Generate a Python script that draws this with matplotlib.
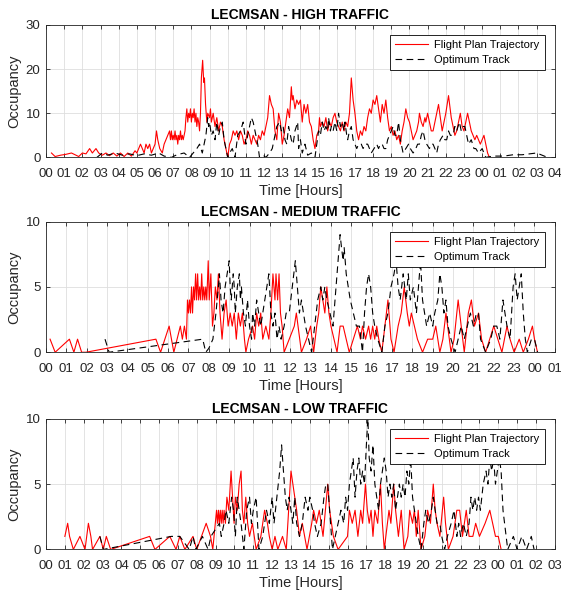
import numpy as np
import matplotlib
matplotlib.use('Agg')
import matplotlib.pyplot as plt

plt.rcParams['font.family'] = ['Liberation Sans', 'DejaVu Sans']

# ---- HIGH traffic ----
hi_fp_t = [0.3, 0.5, 0.8, 1.1, 1.4, 1.6, 1.8, 2.0, 2.2, 2.4, 2.55, 2.75, 2.9, 3.1, 3.3, 3.5, 3.7, 3.9, 4.1, 4.3, 4.5, 4.7, 4.9,
           5.0, 5.1, 5.2, 5.3, 5.4, 5.5, 5.6, 5.7, 5.8, 5.9,
           6.0, 6.08, 6.15, 6.26, 6.4, 6.5, 6.6, 6.7, 6.8, 6.85,
           6.9, 6.95, 7.0, 7.05, 7.1, 7.15, 7.2, 7.25, 7.3, 7.35, 7.4, 7.45, 7.5, 7.55, 7.6, 7.65, 7.7, 7.75, 7.8, 7.85, 7.9, 7.95,
           8.0, 8.05, 8.1, 8.15, 8.2, 8.25, 8.3, 8.35, 8.4, 8.45, 8.5, 8.55, 8.62, 8.68, 8.72, 8.78, 8.85, 8.9,
           9.0, 9.05, 9.1, 9.2, 9.3, 9.4, 9.5, 9.6, 9.7, 9.8, 9.9,
           10.0, 10.1, 10.2, 10.3, 10.4, 10.5, 10.6, 10.7, 10.8, 10.9,
           11.0, 11.1, 11.2, 11.3, 11.4, 11.5, 11.6, 11.7, 11.8, 11.9,
           12.0, 12.1, 12.2, 12.3, 12.4, 12.5, 12.6, 12.7, 12.8, 12.9,
           13.0, 13.1, 13.2, 13.3, 13.4, 13.5, 13.55, 13.6, 13.7, 13.8, 13.9,
           14.0, 14.1, 14.2, 14.3, 14.4, 14.5, 14.6, 14.7, 14.8, 14.9,
           15.0, 15.05, 15.1, 15.2, 15.3, 15.4, 15.5, 15.6, 15.7, 15.8, 15.9,
           16.0, 16.1, 16.2, 16.3, 16.4, 16.5, 16.6, 16.7, 16.8, 16.9,
           17.0, 17.1, 17.2, 17.3, 17.4, 17.5, 17.6, 17.7, 17.8, 17.9,
           18.0, 18.1, 18.2, 18.3, 18.4, 18.5, 18.6, 18.7, 18.8, 18.9,
           19.0, 19.1, 19.2, 19.3, 19.4, 19.5, 19.6, 19.7, 19.8, 19.9,
           20.0, 20.1, 20.2, 20.3, 20.4, 20.5, 20.55, 20.65, 20.75, 20.85, 20.9,
           21.0, 21.1, 21.2, 21.3, 21.4, 21.5, 21.6, 21.7, 21.8, 21.9,
           22.0, 22.15, 22.3, 22.4, 22.5, 22.6, 22.7, 22.8, 22.9,
           23.0, 23.1, 23.2, 23.3, 23.4, 23.5, 23.6, 23.7, 23.8, 23.9,
           24.0, 24.1, 24.2, 24.3, 24.4]
hi_fp_v = [1, 0.2, 0.5, 0.7, 1, 0.6, 0.2, 1, 0.8, 2, 1, 2, 1, 0.5, 1, 0.4, 1, 0.3, 1, 0.2, 1, 0.3, 1.5,
           1, 2, 3, 2, 1, 3, 2, 3, 1, 2,
           3, 6, 4, 2, 1, 3, 4, 5, 6, 4,
           6, 4, 5, 4, 6, 4, 5, 3, 5, 4, 6, 4, 5, 4, 5, 6, 9, 11, 8, 10, 9, 11,
           8, 10, 9, 11, 8, 10, 7, 9, 8, 6, 10, 18, 22, 17, 18, 12, 8, 10,
           9, 11, 8, 10, 7, 9, 6, 8, 7, 4, 2,
           0, 3, 4, 6, 5, 6, 4, 6, 5, 3,
           4, 6, 5, 3, 5, 4, 3, 5, 4, 6,
           5, 7, 9, 14, 12, 11, 6, 4, 10, 8,
           3, 5, 8, 11, 9, 16, 13, 14, 11, 13, 12,
           13, 8, 12, 10, 12, 8, 7, 4, 2, 5,
           6, 9, 7, 8, 7, 9, 6, 8, 7, 9, 10,
           8, 7, 6, 8, 6, 8, 7, 10, 18, 13,
           10, 6, 4, 6, 5, 7, 6, 9, 11, 10,
           13, 12, 14, 11, 8, 12, 10, 13, 9, 6,
           7, 5, 6, 4, 5, 3, 6, 8, 11, 9,
           8, 6, 4, 5, 6, 8, 10, 8, 7, 9, 8,
           10, 8, 6, 6, 8, 10, 12, 9, 6, 8,
           10, 14, 9, 7, 5, 6, 8, 10, 7,
           6, 8, 10, 8, 6, 5, 4, 5, 4, 3,
           4, 5, 3, 1, 0]

hi_ot_t = [2.8, 3.1, 3.4, 3.8, 4.2, 4.6, 5.0, 5.4, 5.8, 6.2, 6.5, 6.9, 7.2, 7.6, 7.9,
           8.1, 8.3, 8.45, 8.6, 8.7, 8.8, 8.9, 8.95,
           9.0, 9.1, 9.2, 9.3, 9.4, 9.5, 9.6, 9.7, 9.8, 9.9,
           10.0, 10.1, 10.25, 10.4, 10.55, 10.7, 10.85,
           11.0, 11.1, 11.2, 11.3, 11.4, 11.5, 11.65, 11.75, 11.95,
           12.1, 12.3, 12.45, 12.6, 12.7, 12.85, 12.95,
           13.05, 13.15, 13.25, 13.35, 13.45, 13.5, 13.6, 13.7, 13.85, 13.9,
           14.0, 14.1, 14.25, 14.4, 14.6, 14.8, 14.9,
           15.0, 15.1, 15.2, 15.3, 15.4, 15.5, 15.55, 15.65, 15.7, 15.8, 15.9,
           16.0, 16.1, 16.2, 16.3, 16.4, 16.45, 16.55, 16.6, 16.7, 16.8, 16.9,
           17.0, 17.1, 17.2, 17.35, 17.45, 17.55, 17.7, 17.8, 17.9,
           18.05, 18.2, 18.3, 18.4, 18.5, 18.6, 18.7, 18.8, 18.9,
           19.0, 19.1, 19.2, 19.3, 19.4, 19.5, 19.65, 19.8, 19.95,
           20.05, 20.2, 20.35, 20.45, 20.55, 20.65, 20.75, 20.85, 20.95,
           21.1, 21.2, 21.3, 21.4, 21.5, 21.6, 21.7, 21.85, 21.95,
           22.05, 22.15, 22.25, 22.4, 22.5, 22.6, 22.75, 22.85, 22.95,
           23.05, 23.15, 23.25, 23.4, 23.55, 23.65, 23.8,
           24.0, 24.2, 24.6, 25.2, 25.7, 26.2, 26.6, 27.0, 27.3, 27.6]
hi_ot_v = [0, 1, 0.5, 1, 0.5, 0.8, 0.4, 0.8, 0.5, 1, 0.3, 0, 0.6, 1, 0,
           1, 2, 3, 1, 3, 5, 9, 7,
           8, 5, 6, 4, 8, 5, 7, 8, 4, 2,
           0, 1, 2, 0, 5, 6, 8,
           3, 5, 7, 9, 8, 6, 3, 0, 0.5,
           0, 1, 2, 5, 7, 8, 6,
           7, 4, 3, 7, 5, 4, 3, 6, 8, 2,
           4, 1, 3, 0.5, 1, 0, 3,
           6, 5, 8, 6, 7, 6, 9, 6, 7, 6, 8,
           6, 10, 7, 8, 6, 8, 5, 4, 6, 7, 4,
           3, 2, 3, 3, 2, 3, 3, 2, 1,
           2, 3, 2, 3, 3, 2, 2, 4, 5,
           6, 7, 5, 5, 8, 4, 1, 2, 3,
           2, 1, 2, 3, 3, 5, 6, 4, 3,
           2, 3, 3, 2, 1, 3, 4, 5, 4,
           4, 6, 5, 5, 7, 6, 8, 6, 7,
           7, 5, 3, 4, 2, 2, 1,
           2, 0, 0.3, 0.3, 0.6, 0.6, 0.8, 1, 0.5, 0]

# ---- MEDIUM traffic ----
md_fp_t = [0.2, 0.45, 1.15, 1.37, 1.55, 1.75, 1.96, 5.4, 5.63, 6.05, 6.28, 6.6, 6.7, 6.8, 6.9, 6.95,
           7.0, 7.05, 7.1, 7.15, 7.2, 7.25, 7.3, 7.35, 7.4, 7.45, 7.5, 7.55, 7.6, 7.65, 7.7, 7.75, 7.8, 7.85, 7.9, 7.97,
           8.02, 8.1, 8.18, 8.25, 8.32, 8.4, 8.47, 8.55, 8.65, 8.75, 8.85, 8.95,
           9.05, 9.15, 9.25, 9.35, 9.45, 9.55, 9.65, 9.75, 9.82, 9.95,
           10.15, 10.25, 10.35, 10.45, 10.55, 10.65, 10.8, 10.95,
           11.05, 11.15, 11.25, 11.3, 11.38, 11.45, 11.52, 11.6, 11.7, 11.95,
           12.2, 12.3, 12.55, 12.8, 13.0, 13.15, 13.3, 13.4, 13.5, 13.6, 13.7, 13.8, 13.9,
           14.0, 14.15, 14.3, 14.45, 14.6, 14.75, 14.9,
           15.1, 15.3, 15.45, 15.55, 15.7, 15.85, 15.95,
           16.05, 16.15, 16.25, 16.35, 16.5, 16.65, 16.8, 16.95,
           17.1, 17.3, 17.45, 17.6, 17.75, 17.85, 17.95,
           18.1, 18.25, 18.5, 18.75, 19.0, 19.15, 19.35, 19.5, 19.65, 19.9,
           20.05, 20.25, 20.4, 20.55, 20.75, 20.9, 21.05, 21.25, 21.4, 21.6, 21.8,
           22.0, 22.2, 22.4, 22.65, 22.8, 23.0, 23.25, 23.45, 23.7, 23.9, 24.0, 24.15]
md_fp_v = [1, 0, 1, 0, 1, 0, 0, 1, 0, 2, 0, 2, 1, 2, 1, 4,
           3, 4, 3, 5, 3, 5, 4, 6, 4, 6, 4, 5, 4, 6, 4, 5, 4, 5, 4, 7,
           4, 6, 2, 3, 5, 4, 6, 3, 1, 3, 4, 2,
           3, 2, 3, 1, 3, 2, 3, 1, 0, 1,
           2, 1, 3, 2, 3, 1, 2, 1,
           3, 6, 4, 6, 4, 6, 3, 2, 0, 1,
           2, 3, 0, 1, 2, 0, 2, 3, 5, 4, 3, 5, 3,
           2, 1, 0, 2, 2, 1, 0,
           1, 2, 1, 2, 1, 2, 1,
           2, 1, 2, 1, 0, 2, 4, 1,
           0, 2, 3, 5, 3, 2, 3,
           2, 1, 0, 1, 1, 2, 0, 1, 3, 0,
           1, 4, 2, 0, 3, 4, 2, 3, 1, 0, 1,
           2, 1, 0, 2, 1, 0, 1, 0, 1, 2, 1, 0]

md_ot_t = [2.9, 3.1, 5.4, 7.7, 7.85, 8.0, 8.2, 8.35, 8.47, 8.52, 8.6, 8.7, 8.8, 8.9,
           9.0, 9.05, 9.1, 9.2, 9.25, 9.3, 9.4, 9.5, 9.55, 9.6, 9.7, 9.8, 9.9,
           10.0, 10.1, 10.15, 10.25, 10.35, 10.45, 10.55, 10.65, 10.75, 10.85, 10.95,
           11.05, 11.15, 11.25, 11.35, 11.45, 11.55, 11.7, 11.8, 11.95,
           12.1, 12.25, 12.35, 12.45, 12.55, 12.65, 12.75, 12.9,
           13.05, 13.2, 13.35, 13.5, 13.6, 13.7, 13.8, 13.95,
           14.1, 14.25, 14.35, 14.45, 14.52, 14.6, 14.65, 14.75, 14.85, 14.95,
           15.1, 15.25, 15.4, 15.55, 15.65, 15.75, 15.85, 15.95,
           16.05, 16.15, 16.3, 16.5, 16.65, 16.8, 16.95,
           17.1, 17.2, 17.3, 17.4, 17.55, 17.7, 17.8, 17.9,
           18.05, 18.2, 18.3, 18.4, 18.5, 18.6, 18.7, 18.85,
           19.0, 19.1, 19.25, 19.35, 19.45, 19.55, 19.65, 19.75, 19.9,
           20.1, 20.25, 20.4, 20.55, 20.7, 20.85,
           21.0, 21.15, 21.25, 21.35, 21.6, 21.85,
           22.0, 22.15, 22.3, 22.45, 22.55, 22.65, 22.8, 22.95,
           23.05, 23.15, 23.25, 23.35, 23.45, 23.55, 23.65, 23.85, 24.0, 24.15]
md_ot_v = [1, 0, 0.5, 1, 0, 0.3, 1, 3, 5, 6, 4, 3, 5, 6,
           7, 5, 4, 6, 5, 3, 5, 6, 4, 5, 3, 2, 4,
           2, 1, 3, 2, 4, 3, 2, 3, 4, 5, 6,
           3, 2, 3, 1, 2, 1, 2, 3, 3,
           5, 7, 5, 3, 4, 3, 2, 1,
           0, 2, 4, 5, 4, 5, 4, 3,
           2, 5, 7, 9, 8, 7, 8, 6, 5, 4,
           3, 2, 2, 0, 3, 5, 6, 5,
           3, 2, 1, 0, 2, 3, 5,
           6, 7, 5, 4, 6, 4, 6, 4,
           5, 3, 5, 7, 4, 3, 2, 3,
           2, 3, 4, 6, 5, 3, 4, 2, 1,
           0, 1, 2, 1, 2, 3,
           2, 3, 3, 1, 0, 1,
           2, 2, 1, 4, 3, 2, 1, 5,
           6, 4, 5, 6, 3, 1, 0, 1, 1, 0]

# ---- LOW traffic ----
lo_fp_t = [1.0, 1.15, 1.25, 1.45, 1.8, 2.07, 2.25, 2.38, 2.47, 2.86, 3.04, 3.2, 3.43, 5.5, 5.78, 6.57, 6.9,
           7.1, 7.37, 7.8, 8.0, 8.5, 8.73, 8.85,
           9.05, 9.1, 9.15, 9.2, 9.25, 9.3, 9.35, 9.4, 9.45, 9.52, 9.6, 9.7, 9.82, 9.9, 9.98,
           10.05, 10.15, 10.25, 10.35, 10.42, 10.5, 10.6, 10.7, 10.8, 10.95,
           11.05, 11.15, 11.4, 11.6, 11.75, 11.85, 12.0, 12.15, 12.3, 12.55, 12.75,
           13.0, 13.1, 13.2, 13.3, 13.45, 13.6, 13.85,
           14.1, 14.2, 14.35, 14.5, 14.7, 14.95, 15.05, 15.25, 15.5,
           16.0, 16.1, 16.25, 16.4, 16.55, 16.7, 16.8, 16.95,
           17.05, 17.15, 17.25, 17.35, 17.45, 17.6, 17.75, 17.85, 17.95,
           18.2, 18.3, 18.45, 18.55, 18.7, 18.85, 19.0,
           19.2, 19.3, 19.45, 19.55, 19.65, 19.75, 19.9,
           20.1, 20.25, 20.4, 20.55, 20.65, 20.75, 20.9,
           21.1, 21.2, 21.35, 21.6, 21.8, 21.95,
           22.1, 22.3, 22.45, 22.65, 22.8, 23.0, 23.3, 23.55, 23.7, 23.85, 24.0, 24.15]
lo_fp_v = [1, 2, 1, 0, 1, 0, 2, 1, 0, 1, 0, 1, 0, 1, 0, 1, 0,
           1, 0, 1, 0, 2, 1, 0,
           3, 2, 3, 2, 3, 2, 3, 2, 3, 2, 4, 3, 6, 4, 2,
           4, 3, 5, 6, 3, 2, 4, 2, 1, 2,
           1, 0, 1, 3, 2, 1, 0, 1, 0, 1, 0,
           6, 5, 4, 3, 1, 2, 0,
           2, 3, 2, 3, 1, 5, 3, 1, 0,
           1, 3, 2, 3, 1, 3, 2, 5,
           3, 2, 3, 1, 3, 2, 5, 2, 0,
           3, 2, 5, 3, 1, 3, 0,
           1, 3, 2, 3, 1, 3, 0,
           1, 3, 2, 5, 3, 2, 1,
           4, 2, 0, 1, 3, 3,
           1, 3, 1, 1, 2, 1, 2, 3, 2, 1, 1, 0]

lo_ot_t = [2.86, 3.04, 6.65, 7.1, 7.6, 7.8, 7.95, 8.3, 8.6, 8.75,
           9.2, 9.3, 9.45, 9.55, 9.7, 9.85, 9.95,
           10.05, 10.15, 10.25, 10.35, 10.5, 10.65, 10.8, 10.9,
           11.0, 11.15, 11.3, 11.5, 11.7, 11.85,
           12.0, 12.1, 12.25, 12.4, 12.5, 12.6, 12.7, 12.8, 12.9,
           13.0, 13.1, 13.2, 13.3, 13.45, 13.6, 13.75, 13.9,
           14.0, 14.15, 14.25, 14.4, 14.6, 14.75, 14.85, 14.95,
           15.05, 15.2, 15.35, 15.5, 15.65, 15.8, 15.9,
           16.0, 16.1, 16.2, 16.3, 16.4, 16.5, 16.6, 16.7, 16.8, 16.9,
           17.0, 17.08, 17.15, 17.25, 17.35, 17.45, 17.55, 17.65, 17.75, 17.85, 17.95,
           18.05, 18.15, 18.25, 18.35, 18.45, 18.55, 18.65, 18.75, 18.85, 18.95,
           19.05, 19.15, 19.25, 19.35, 19.45, 19.55, 19.65, 19.75, 19.9,
           20.05, 20.15, 20.3, 20.45, 20.55, 20.65, 20.75, 20.9,
           21.0, 21.15, 21.3, 21.5, 21.65, 21.8, 21.9,
           22.0, 22.15, 22.3, 22.45, 22.55, 22.65, 22.75, 22.85, 22.95,
           23.05, 23.2, 23.35, 23.45, 23.55, 23.65, 23.75, 23.85, 23.95,
           24.05, 24.15, 24.25, 24.5, 24.8, 25.0, 25.25, 25.5, 25.75, 25.9]
lo_ot_v = [1, 0, 1, 1, 0, 1, 0, 1, 0, 1,
           2, 1, 2, 3, 2, 4, 3,
           1, 4, 3, 2, 0, 3, 4, 2,
           3, 4, 0, 1, 3, 2,
           4, 2, 4, 6, 8, 6, 4, 3, 4,
           3, 2, 4, 2, 1, 2, 4, 3,
           4, 3, 2, 1, 2, 4, 5, 5,
           3, 0, 1, 2, 3, 2, 4,
           3, 5, 6, 7, 4, 6, 7, 5, 6, 5,
           8, 10, 7, 6, 8, 5, 4, 3, 5, 6, 7,
           6, 4, 5, 4, 5, 3, 4, 5, 4, 5,
           4, 6, 5, 7, 4, 3, 2, 1, 0,
           2, 3, 2, 3, 4, 3, 2, 2,
           1, 0, 1, 2, 3, 1, 2,
           1, 2, 1, 2, 4, 3, 4, 3, 4,
           3, 5, 6, 5, 7, 6, 7, 5, 6,
           7, 6, 3, 0, 1, 0, 1, 0, 1, 0]

titles = ['LECMSAN - HIGH TRAFFIC', 'LECMSAN - MEDIUM TRAFFIC', 'LECMSAN - LOW TRAFFIC']
x_spans = [28, 25, 27]
y_maxes = [30, 10, 10]
y_ticks = [[0, 10, 20, 30], [0, 5, 10], [0, 5, 10]]
series = [(hi_fp_t, hi_fp_v, hi_ot_t, hi_ot_v),
          (md_fp_t, md_fp_v, md_ot_t, md_ot_v),
          (lo_fp_t, lo_fp_v, lo_ot_t, lo_ot_v)]

fig = plt.figure(figsize=(5.61, 5.94), dpi=100)
rects = [[0.082, 0.735, 0.907, 0.223],
         [0.082, 0.407, 0.907, 0.220],
         [0.082, 0.075, 0.907, 0.220]]

for i in range(3):
    ax = fig.add_axes(rects[i])
    ft, fv, ot, ov = series[i]
    ax.plot(ft, fv, color='red', lw=0.8, label='Flight Plan Trajectory')
    ax.plot(ot, ov, color='black', lw=0.8, linestyle=(0, (6, 4)), label='Optimum Track')
    span = x_spans[i]
    ax.set_xlim(0, span)
    ax.set_ylim(0, y_maxes[i])
    hours = np.arange(0, span + 1)
    ax.set_xticks(hours)
    ax.set_xticklabels([f'{h % 24:02d}' for h in hours])
    ax.set_yticks(y_ticks[i])
    ax.grid(True, color='#dedede', lw=0.6)
    ax.set_axisbelow(True)
    ax.tick_params(direction='in', length=3, width=0.6, top=True, right=True,
                   labelsize=9.5, colors='#262626')
    ax.tick_params(axis='x', pad=7.5)
    ax.tick_params(axis='y', pad=4)
    for s in ax.spines.values():
        s.set_color('#262626')
        s.set_linewidth(0.6)
    ax.set_title(titles[i], fontsize=10, fontweight='bold', pad=4)
    ax.set_xlabel('Time [Hours]', fontsize=10.5, color='#262626', labelpad=3)
    ax.set_ylabel('Occupancy', fontsize=10.5, color='#262626', labelpad=3)
    leg = ax.legend(loc='upper right', bbox_to_anchor=(0.98, 0.923), borderaxespad=0,
                    fontsize=8, fancybox=False, framealpha=1, edgecolor='black',
                    handlelength=3.0, handletextpad=0.55, labelspacing=0.45, borderpad=0.45)
    leg.get_frame().set_linewidth(0.6)

fig.savefig('out.png', dpi=100)
